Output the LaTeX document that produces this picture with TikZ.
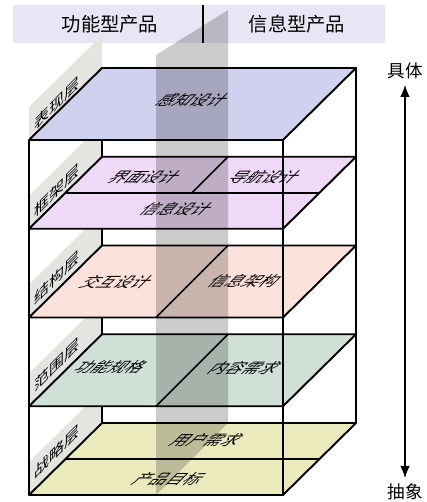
\documentclass[tikz,border=0pt]{standalone}
\usepackage{fontspec}
\setmainfont{Noto Sans CJK SC}
\usetikzlibrary{arrows.meta,positioning}
\definecolor{barfill}{HTML}{E6E6F4}
\definecolor{tagfill}{HTML}{E4E4E0}
\definecolor{surfacefill}{HTML}{D0D0EF}
\definecolor{skeletonfill}{HTML}{EFD9F7}
\definecolor{structurefill}{HTML}{FCE2DA}
\definecolor{scopefill}{HTML}{D0E0D6}
\definecolor{strategyfill}{HTML}{EAEABD}

\begin{document}
\begin{tikzpicture}[
  x=0.02cm, y=-0.02cm,
  edge/.style={line width=1.1pt, line join=round},
  split/.style={line width=0.9pt},
  tag/.style={font=\fontsize{8.5}{8.5}\selectfont, yslant=1, inner sep=0pt},
  flat/.style={font=\fontsize{9.5}{9.5}\selectfont, xslant=1, yscale=0.85, inner sep=0pt},
  head/.style={font=\fontsize{11}{11}\selectfont, inner sep=0pt},
  side/.style={font=\fontsize{10}{10}\selectfont, inner sep=1pt}
]
  \useasboundingbox (0,0) rectangle (426,502);
  % header bar
  \fill[barfill] (13,5) rectangle (385,43);
  \node[head] (func) at (110,24) {功能型产品};
  \node[head] (info) at (297,24) {信息型产品};
  \draw[line width=0.9pt] (203,5) -- (203,43);
  % side tags, then back edges, then the five planes
  \foreach \i in {1,...,5}
    \fill[tagfill] (29,{51.25+\i*88.75}) -- ++(73,-72) -- ++(0,-33) -- ++(-73,72) -- cycle;
  \draw[edge] (102,68) -- (102,423);
  \draw[edge] (356,68) -- (356,423);
  \foreach \i/\col in {5/strategyfill,4/scopefill,3/structurefill,2/skeletonfill,1/surfacefill}
    \filldraw[edge, fill=\col] (29,{51.25+\i*88.75}) -- ++(254,0) -- ++(73,-72) -- ++(-254,0) -- cycle;
  % splits
  \draw[split] (65,192.75) -- (319,192.75);
  \draw[split] (228,156.75) -- (192,192.75);
  \draw[split] (228,245.5) -- (156,317.5);
  \draw[split] (228,334.25) -- (156,406.25);
  \draw[split] (65,459) -- (319,459);
  % divider between the two product kinds
  \fill[black, fill opacity=0.2] (156,495) -- (228,423) -- (228,10) -- (156,55) -- cycle;
  % front edges
  \draw[edge] (29,140) -- (29,495);
  \draw[edge] (283,140) -- (283,495);
  % layer names
  \node[tag] (surface) at (57,103) {表现层};
  \node[tag] (skeleton) at (57,190) {框架层};
  \node[tag] (structure) at (57,277) {结构层};
  \node[tag] (scope) at (57,364) {范围层};
  \node[tag] (strategy) at (57,451) {战略层};
  % plane contents
  \node[flat] (sensory) at (193,100) {感知设计};
  \node[flat] (interface) at (145,177) {界面设计};
  \node[flat] (navigation) at (265,177) {导航设计};
  \node[flat] (infodesign) at (177,209) {信息设计};
  \node[flat] (interaction) at (117,282) {交互设计};
  \node[flat] (infoarch) at (245,281) {信息架构};
  \node[flat] (funcspec) at (111,367) {功能规格};
  \node[flat] (content) at (245,368) {内容需求};
  \node[flat] (userneeds) at (207,440) {用户需求};
  \node[flat] (goals) at (169,479) {产品目标};
  % concrete vs abstract
  \node[side] (concrete) at (405,71) {具体};
  \node[side] (abstract) at (405,492) {抽象};
  \draw[{Latex[length=7pt,width=5.5pt]}-{Latex[length=7pt,width=5.5pt]}, line width=1.1pt, shorten <=2pt, shorten >=2pt] (concrete) -- (abstract);
\end{tikzpicture}
\end{document}
